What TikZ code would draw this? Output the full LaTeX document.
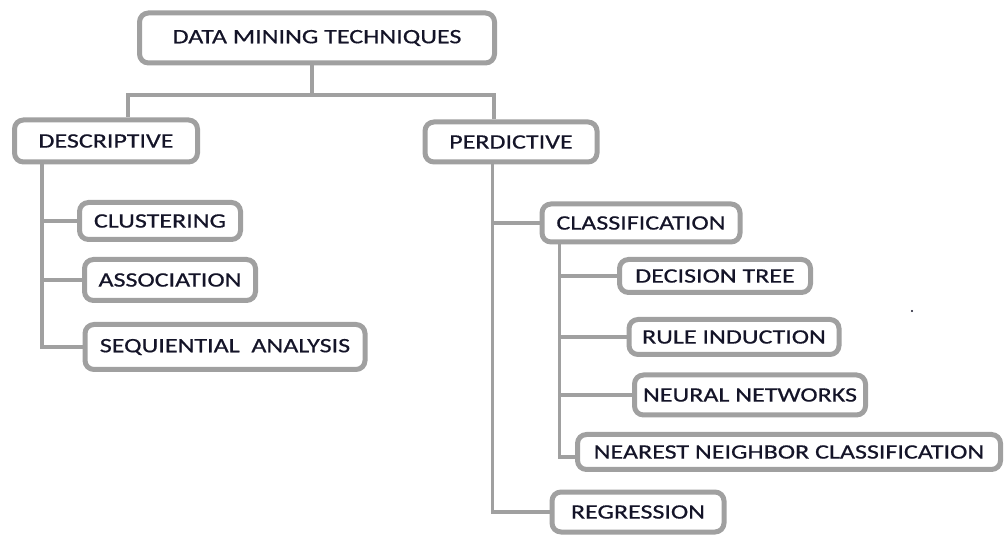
\documentclass[tikz,border=0pt]{standalone}
\usepackage{fontspec}
\setmainfont{Carlito}[FakeStretch=1.27, FakeBold=0.6]
\definecolor{pencil}{RGB}{160,160,160}
\definecolor{ink}{RGB}{20,20,40}
\begin{document}
\begin{tikzpicture}[x=1pt, y=-1pt,
                    box/.style={draw=pencil, line width=5pt, rounded corners=9pt,
                                inner sep=0, text=ink,
                                font=\fontsize{20.5}{24}\selectfont},
                    link/.style={draw=pencil, line width=3.5pt}
                    ]
        \useasboundingbox (0,0) rectangle (1005,537);

        \node[box, minimum width=355, minimum height=50] (dmt)  at (317,38)  {DATA MINING TECHNIQUES};
        \node[box, minimum width=183, minimum height=42] (desc) at (106,141) {DESCRIPTIVE};
        \node[box, minimum width=172, minimum height=40] (pred) at (511,142) {PERDICTIVE};

        \node[box, minimum width=161, minimum height=37] (clus)  at (160,221) {CLUSTERING};
        \node[box, minimum width=171, minimum height=41] (assoc) at (170,280) {ASSOCIATION};
        \node[box, minimum width=280, minimum height=45] (seq)   at (225,347) {SEQUIENTIAL\ \ ANALYSIS};

        \node[box, minimum width=198, minimum height=38] (clas)    at (641,223) {CLASSIFICATION};
        \node[box, minimum width=191, minimum height=33] (dtree)   at (715,276) {DECISION TREE};
        \node[box, minimum width=210, minimum height=35] (rule)    at (734,337) {RULE INDUCTION};
        \node[box, minimum width=231, minimum height=40] (neural)  at (750,395) {NEURAL NETWORKS};
        \node[box, minimum width=423, minimum height=35] (nearest) at (789,452) {NEAREST NEIGHBOR CLASSIFICATION};
        \node[box, minimum width=172, minimum height=40] (regr)    at (638,512) {REGRESSION};

        % top split
        \coordinate (split) at ([xshift=-5pt]dmt.south |- 0,95);
        \draw[link] ([xshift=-5pt]dmt.south) -- (split);
        \draw[link] (split) -| ([xshift=22pt]desc.north);
        \draw[link] (split) -| ([xshift=-17pt]pred.north);

        % trunks
        \coordinate (dtrunk) at ([xshift=30pt]desc.south west);
        \coordinate (ptrunk) at ([xshift=70pt]pred.south west);
        \coordinate (ctrunk) at ([xshift=20pt]clas.south west);

        \draw[link] (dtrunk) |- (seq.west);
        \foreach \n in {clus,assoc}
            \draw[link] (\n.west) -- (\n.west -| dtrunk);

        \draw[link] (ptrunk) |- (regr.west);
        \draw[link] (clas.west) -- (clas.west -| ptrunk);

        \draw[link] (ctrunk) |- ([yshift=-5pt]nearest.west);
        \foreach \n in {dtree,rule,neural}
            \draw[link] (\n.west) -- (\n.west -| ctrunk);

        \fill[ink] (912,311) circle (1.2pt);
\end{tikzpicture}
\end{document}
